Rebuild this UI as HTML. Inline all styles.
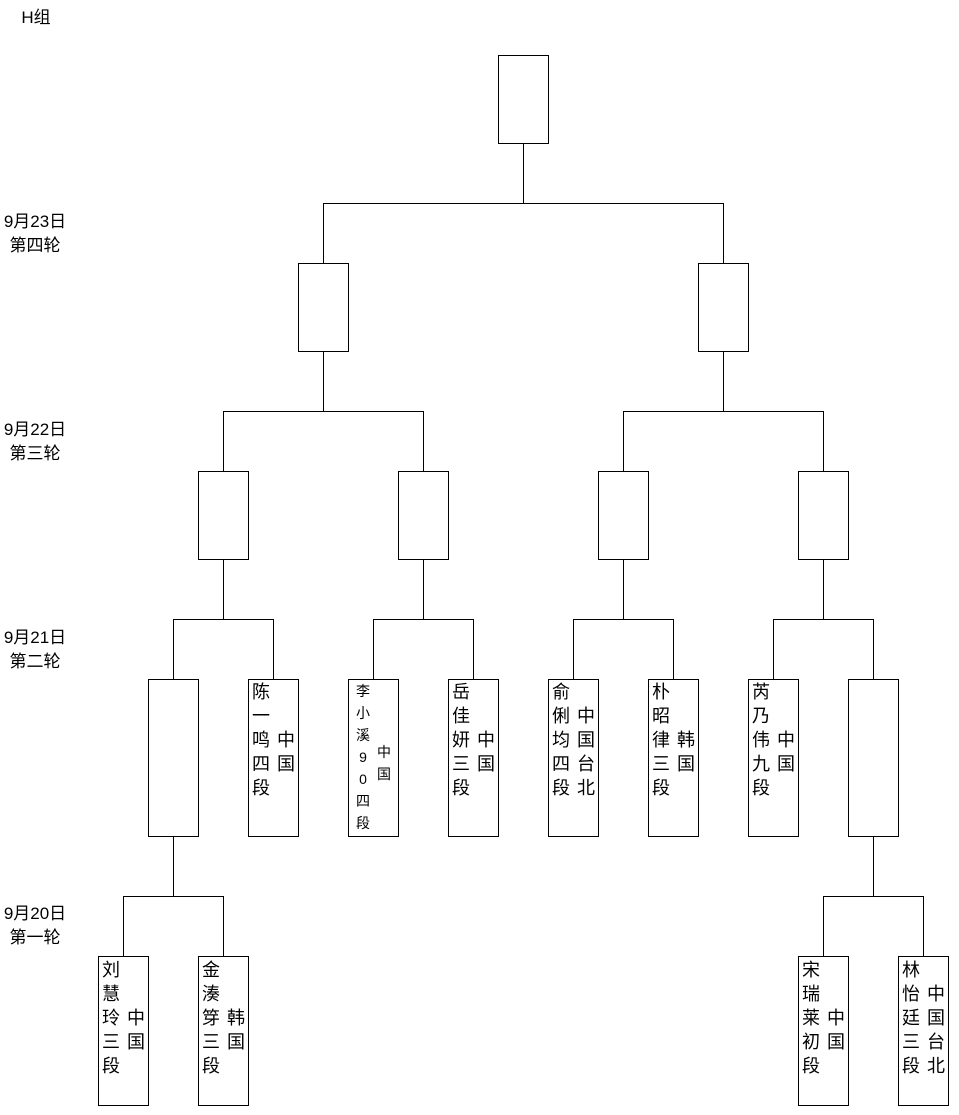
<!DOCTYPE html>
<html><head><meta charset="utf-8"><style>
body{margin:0;width:959px;height:1115px;background:#fff;position:relative;overflow:hidden;font-family:"Liberation Sans","Noto Sans CJK SC",sans-serif;color:#000}
.b{position:absolute;border:1px solid #000;box-sizing:border-box;background:#fff}
.h{position:absolute;height:1px;background:#000}
.v{position:absolute;width:1px;background:#000}
.t{position:absolute;font-size:18px;line-height:24px;white-space:pre;text-align:center;width:18px}
.s{position:absolute;font-size:14px;line-height:22px;white-space:pre;text-align:center;width:16px}
.l{position:absolute;font-size:17px;line-height:24px;white-space:nowrap;text-align:center;width:80px}
</style></head><body>
<div class="l" style="left:-4px;top:6px">H组</div>
<div class="l" style="left:-5px;top:210px">9月23日</div><div class="l" style="left:-5px;top:234px">第四轮</div>
<div class="l" style="left:-5px;top:418px">9月22日</div><div class="l" style="left:-5px;top:442px">第三轮</div>
<div class="l" style="left:-5px;top:626px">9月21日</div><div class="l" style="left:-5px;top:650px">第二轮</div>
<div class="l" style="left:-5px;top:902px">9月20日</div><div class="l" style="left:-5px;top:926px">第一轮</div>

<div class="v" style="left:523px;top:143px;height:60px"></div>
<div class="h" style="left:323px;top:203px;width:401px"></div>
<div class="v" style="left:323px;top:203px;height:60px"></div>
<div class="v" style="left:723px;top:203px;height:60px"></div>

<div class="v" style="left:323px;top:351px;height:60px"></div>
<div class="h" style="left:223px;top:411px;width:201px"></div>
<div class="v" style="left:223px;top:411px;height:60px"></div>
<div class="v" style="left:423px;top:411px;height:60px"></div>
<div class="v" style="left:723px;top:351px;height:60px"></div>
<div class="h" style="left:623px;top:411px;width:201px"></div>
<div class="v" style="left:623px;top:411px;height:60px"></div>
<div class="v" style="left:823px;top:411px;height:60px"></div>

<div class="v" style="left:223px;top:559px;height:60px"></div>
<div class="h" style="left:173px;top:619px;width:101px"></div>
<div class="v" style="left:173px;top:619px;height:60px"></div>
<div class="v" style="left:273px;top:619px;height:60px"></div>
<div class="v" style="left:423px;top:559px;height:60px"></div>
<div class="h" style="left:373px;top:619px;width:101px"></div>
<div class="v" style="left:373px;top:619px;height:60px"></div>
<div class="v" style="left:473px;top:619px;height:60px"></div>
<div class="v" style="left:623px;top:559px;height:60px"></div>
<div class="h" style="left:573px;top:619px;width:101px"></div>
<div class="v" style="left:573px;top:619px;height:60px"></div>
<div class="v" style="left:673px;top:619px;height:60px"></div>
<div class="v" style="left:823px;top:559px;height:60px"></div>
<div class="h" style="left:773px;top:619px;width:101px"></div>
<div class="v" style="left:773px;top:619px;height:60px"></div>
<div class="v" style="left:873px;top:619px;height:60px"></div>

<div class="v" style="left:173px;top:836px;height:60px"></div>
<div class="h" style="left:123px;top:896px;width:101px"></div>
<div class="v" style="left:123px;top:896px;height:60px"></div>
<div class="v" style="left:223px;top:896px;height:60px"></div>
<div class="v" style="left:873px;top:836px;height:60px"></div>
<div class="h" style="left:823px;top:896px;width:101px"></div>
<div class="v" style="left:823px;top:896px;height:60px"></div>
<div class="v" style="left:923px;top:896px;height:60px"></div>

<div class="b" style="left:498px;top:55px;width:51px;height:89px"></div>
<div class="b" style="left:298px;top:263px;width:51px;height:89px"></div>
<div class="b" style="left:698px;top:263px;width:51px;height:89px"></div>
<div class="b" style="left:198px;top:471px;width:51px;height:89px"></div>
<div class="b" style="left:398px;top:471px;width:51px;height:89px"></div>
<div class="b" style="left:598px;top:471px;width:51px;height:89px"></div>
<div class="b" style="left:798px;top:471px;width:51px;height:89px"></div>

<div class="b" style="left:148px;top:679px;width:51px;height:158px"></div>
<div class="b" style="left:248px;top:679px;width:51px;height:158px"></div>
<div class="b" style="left:348px;top:679px;width:51px;height:158px"></div>
<div class="b" style="left:448px;top:679px;width:51px;height:158px"></div>
<div class="b" style="left:548px;top:679px;width:51px;height:158px"></div>
<div class="b" style="left:648px;top:679px;width:51px;height:158px"></div>
<div class="b" style="left:748px;top:679px;width:51px;height:158px"></div>
<div class="b" style="left:848px;top:679px;width:51px;height:158px"></div>

<div class="b" style="left:98px;top:956px;width:51px;height:150px"></div>
<div class="b" style="left:198px;top:956px;width:51px;height:150px"></div>
<div class="b" style="left:798px;top:956px;width:51px;height:150px"></div>
<div class="b" style="left:898px;top:956px;width:51px;height:150px"></div>

<div class="t" style="left:252px;top:680px">陈
一
鸣
四
段</div>
<div class="t" style="left:277px;top:728px">中
国</div>
<div class="s" style="left:355px;top:680px">李
小
溪
9
0
四
段</div>
<div class="s" style="left:376px;top:741px">中
国</div>
<div class="t" style="left:452px;top:680px">岳
佳
妍
三
段</div>
<div class="t" style="left:477px;top:728px">中
国</div>
<div class="t" style="left:552px;top:680px">俞
俐
均
四
段</div>
<div class="t" style="left:577px;top:704px">中
国
台
北</div>
<div class="t" style="left:652px;top:680px">朴
昭
律
三
段</div>
<div class="t" style="left:677px;top:728px">韩
国</div>
<div class="t" style="left:752px;top:680px">芮
乃
伟
九
段</div>
<div class="t" style="left:777px;top:728px">中
国</div>

<div class="t" style="left:102px;top:958px">刘
慧
玲
三
段</div>
<div class="t" style="left:127px;top:1006px">中
国</div>
<div class="t" style="left:202px;top:958px">金
湊
笌
三
段</div>
<div class="t" style="left:227px;top:1006px">韩
国</div>
<div class="t" style="left:802px;top:958px">宋
瑞
莱
初
段</div>
<div class="t" style="left:827px;top:1006px">中
国</div>
<div class="t" style="left:902px;top:958px">林
怡
廷
三
段</div>
<div class="t" style="left:927px;top:982px">中
国
台
北</div>
</body></html>
